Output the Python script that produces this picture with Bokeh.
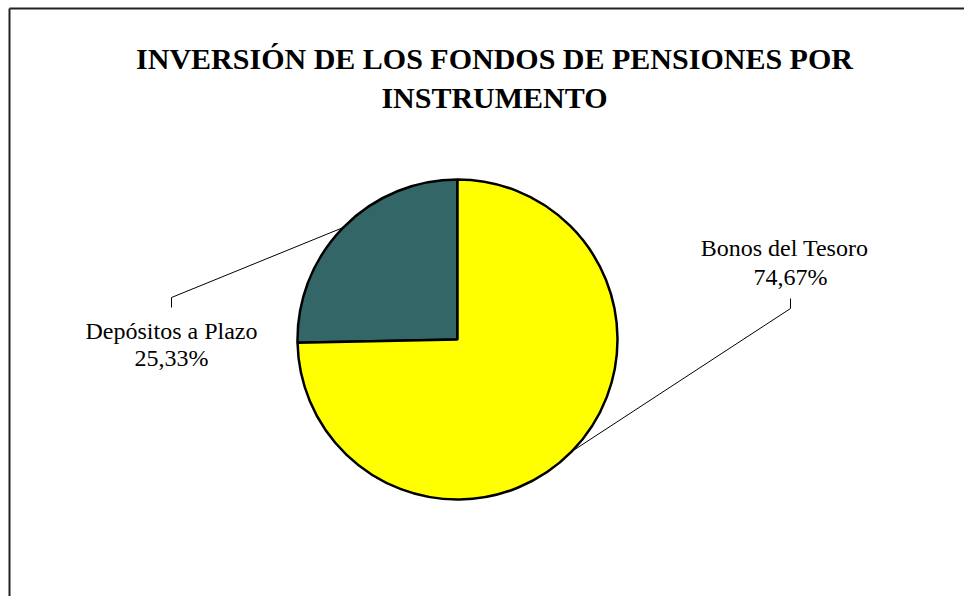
import math
from bokeh.plotting import figure
from bokeh.models import Range1d, ColumnDataSource
from bokeh.core.properties import value
from bokeh.embed import file_html
from bokeh.resources import INLINE

# ---- data ----
categories = ["Depósitos a Plazo", "Bonos del Tesoro"]
shares = [25.33, 74.67]
colors = ["#336666", "#FFFF00"]
title_lines = ["INVERSIÓN DE LOS FONDOS DE PENSIONES POR", "INSTRUMENTO"]

W, H = 964, 596
p = figure(width=W, height=H, output_backend="svg", toolbar_location=None,
           x_range=Range1d(0, W), y_range=Range1d(0, H), min_border=0,
           match_aspect=False)
p.axis.visible = False
p.grid.visible = False
p.outline_line_color = None
p.background_fill_color = "white"

# border (top and left visible in window)
p.segment(x0=[9, 9], y0=[0, 588], x1=[9, W], y1=[588, 588],
          line_color="#222222", line_width=2)

cx, cy, r = 457, 257, 160
total = sum(shares)
start = math.pi / 2
starts, ends, mids = [], [], []
for s in shares:
    a = s / total * 2 * math.pi
    starts.append(start)
    ends.append(start + a)
    mids.append(start + a / 2)
    start += a

src = ColumnDataSource(dict(start=starts, end=ends, color=colors))
p.wedge(x=cx, y=cy, radius=r, start_angle="start", end_angle="end",
        fill_color="color", line_color="black", line_width=2.5, source=src)

# labels and leader lines
label_x = [171, 784]
name_y = [266, 349]
pct_y = [239, 320]
tick_x = [171, 790]
tick_y = [(289, 299), (298, 288)]
font = value("Liberation Serif")
for i, name in enumerate(categories):
    pct = f"{shares[i]:.2f}".replace(".", ",") + "%"
    p.text(x=[label_x[i]], y=[name_y[i]], text=[name], text_font=font,
           text_font_size="24px", text_align="center", text_baseline="middle",
           text_color="black")
    p.text(x=[label_x[i] + (0 if i == 0 else 6)], y=[pct_y[i]], text=[pct], text_font=font,
           text_font_size="24px", text_align="center", text_baseline="middle",
           text_color="black")
    ex = cx + r * math.cos(mids[i])
    ey = cy + r * math.sin(mids[i])
    y0, y1 = tick_y[i]
    p.line(x=[tick_x[i], tick_x[i], ex], y=[y0, y1, ey], line_color="black", line_width=1)

# title
p.text(x=[494, 494], y=[538, 499], text=title_lines, text_font=font,
       text_font_size="30px", text_font_style="bold", text_align="center",
       text_baseline="middle", text_color="black")

open("out.html", "w").write(file_html(p, INLINE))
